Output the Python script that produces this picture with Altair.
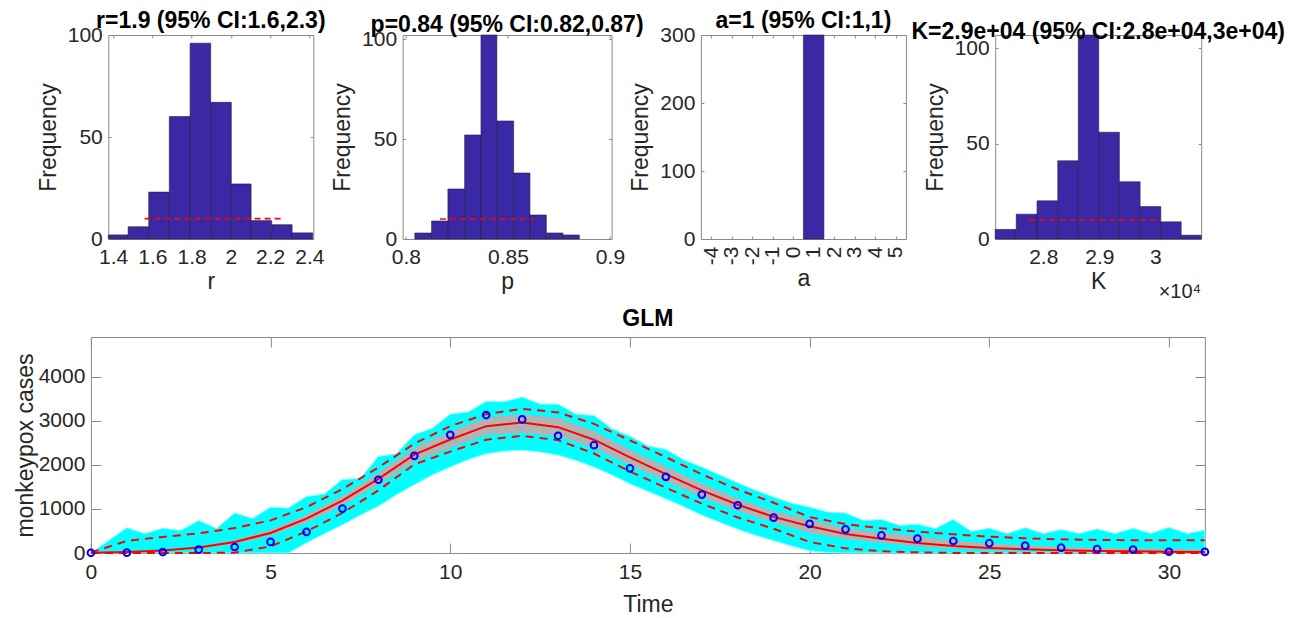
import altair as alt
import pandas as pd

FONT = "Liberation Sans"
TXT = "#262626"
BOX = "#8a8a8a"
BAR = "#3b28a5"
BAR_EDGE = "#202040"
RED = "#ff0000"

# ---------------- histogram data ----------------
r_edges = [1.375, 1.476, 1.581, 1.686, 1.792, 1.897, 2.002, 2.103, 2.208, 2.312, 2.417]
r_counts = [2, 6, 23, 60, 96, 67, 27, 9, 7, 3]
r_ci = [1.56, 2.26]

p_edges = [0.8044, 0.8126, 0.8206, 0.8288, 0.8368, 0.8446, 0.8528, 0.8608, 0.8688, 0.8770, 0.8850]
p_counts = [3, 9, 25, 52, 102, 59, 33, 12, 3, 2]
p_ci = [0.8167, 0.8627]

a_edges = [0.5, 1.5]
a_counts = [300]

# K in units of 1e4
k_edges = [2.7143, 2.7518, 2.7889, 2.8258, 2.8625, 2.8989, 2.9357, 2.9727, 3.0096, 3.0459, 3.0816]
k_counts = [5, 13, 20, 41, 107, 56, 30, 17, 9, 2]
k_ci = [2.775, 3.010]

ci_height = 10

titles = ["r=1.9 (95% CI:1.6,2.3)", "p=0.84 (95% CI:0.82,0.87)",
          "a=1 (95% CI:1,1)", "K=2.9e+04 (95% CI:2.8e+04,3e+04)"]

# ---------------- fit data ----------------
time = list(range(32))
observed = [5, 7, 22, 75, 136, 252, 477, 1007, 1662, 2204, 2680, 3130, 3030, 2659, 2445, 1920,
            1727, 1325, 1083, 802, 662, 537, 398, 325, 272, 222, 166, 120, 90, 75, 28, 25]
fit_mean = [5, 22, 56, 125, 250, 455, 780, 1190, 1680, 2230, 2575, 2878, 2958, 2855, 2570, 2170,
            1790, 1420, 1095, 820, 605, 430, 325, 226, 157, 113, 83, 60, 45, 37, 30, 22]
pi_hi = [10, 275, 365, 445, 565, 740, 1040, 1450, 1940, 2480, 2880, 3150, 3270, 3190, 2930, 2555,
         2175, 1785, 1440, 1140, 815, 655, 560, 485, 423, 370, 335, 310, 295, 290, 288, 288]
pi_lo = [0, 0, 0, 0, 8, 150, 490, 910, 1420, 2010, 2300, 2570, 2658, 2560, 2257, 1850,
         1480, 1120, 805, 550, 250, 105, 40, 15, 0, 0, 0, 0, 0, 0, 0, 0]
ci_lo = [0, 14, 38, 95, 205, 390, 690, 1075, 1540, 2070, 2380, 2680, 2730, 2650, 2380, 1990,
         1620, 1260, 950, 690, 452, 320, 226, 150, 98, 70, 52, 38, 28, 22, 18, 15]
ci_hi = [12, 30, 75, 155, 295, 520, 870, 1300, 1820, 2390, 2760, 3070, 3150, 3060, 2770, 2350,
         1960, 1580, 1240, 950, 764, 560, 476, 380, 287, 220, 173, 140, 115, 100, 90, 80]

# envelope of the simulated realisations (read at every half time unit)
sim_t = [i / 2 for i in range(63)]
sim_hi = [0, 285, 570, 440, 560, 510, 735, 555, 910, 780, 1040, 1020, 1280, 1340, 1670, 1690,
          2190, 2250, 2680, 2830, 3150, 3200, 3440, 3430, 3540, 3380, 3375, 3150, 3120, 2820,
          2650, 2430, 2350, 2110, 1950, 1770, 1590, 1420, 1270, 1130, 1040, 930, 905, 740,
          760, 625, 655, 555, 760, 490, 560, 440, 570, 440, 530, 440, 545, 440, 560, 440,
          580, 440, 520]
sim_lo = [0, 0, 0, 0, 0, 0, 0, 0, 0, 0, 0, 0,
          230, 440, 640, 860, 1060, 1320, 1550, 1770, 1950, 2120, 2250, 2310, 2330, 2290,
          2220, 2100, 1950, 1770, 1570, 1400, 1230, 1050, 860, 700, 540, 400, 280, 160, 50, 10,
          0, 0, 0, 0, 0, 0, 0, 0, 0, 0, 0, 0, 0, 0, 0, 0, 0, 0, 0, 0, 0]

LBL = "'' + datum.value"


def sc(dom):
    return alt.Scale(domain=dom, nice=False, zero=False)


def tick_layers(xdom, ydom, xvals, yvals, W, H, tl):
    fdf = pd.DataFrame({"fx": [xdom[0]], "fy": [ydom[0]]})
    common = dict(labels=False, domain=False, grid=False, title=None, ticks=True,
                  tickColor=BOX, tickWidth=1, tickSize=tl)
    a = alt.Chart(fdf).mark_point(opacity=0).encode(
        x=alt.X("fx:Q", scale=sc(xdom),
                axis=alt.Axis(orient="top", offset=-H, values=xvals, **common)),
        y=alt.Y("fy:Q", scale=sc(ydom),
                axis=alt.Axis(orient="right", offset=-W, values=yvals, **common)))
    b = alt.Chart(fdf).mark_point(opacity=0).encode(
        x=alt.X("fx:Q", scale=sc(xdom),
                axis=alt.Axis(orient="bottom", offset=-H, values=xvals, **common)),
        y=alt.Y("fy:Q", scale=sc(ydom),
                axis=alt.Axis(orient="left", offset=-W, values=yvals, **common)))
    return [a, b]


def main_x(title, vals, angle=0, tpad=3):
    return alt.Axis(orient="bottom", values=vals, title=title, ticks=False, tickSize=0,
                    domain=False, grid=False, labelExpr=LBL, labelPadding=7,
                    labelAngle=angle, titlePadding=tpad, labelOverlap=False,
                    labelFlush=False)


def main_y(title, vals, tpad=7):
    return alt.Axis(orient="left", values=vals, title=title, ticks=False, tickSize=0,
                    domain=False, grid=False, labelExpr=LBL, labelPadding=6,
                    titlePadding=tpad, labelOverlap=False, labelFlush=False)


def hist_panel(edges, counts, ci, xdom, ydom, xvals, yvals, xtitle, title, W, H,
               angle=0, extra=None):
    df = pd.DataFrame({"x0": edges[:-1], "x1": edges[1:], "n": counts,
                       "base": [0] * len(counts)})
    bars = alt.Chart(df).mark_rect(color=BAR, stroke=BAR_EDGE, strokeWidth=0.6).encode(
        x=alt.X("x0:Q", scale=sc(xdom), axis=main_x(xtitle, xvals, angle)),
        x2="x1:Q",
        y=alt.Y("n:Q", scale=sc(ydom), axis=main_y("Frequency", yvals)),
        y2="base:Q",
    )
    layers = [bars]
    if ci is not None:
        cdf = pd.DataFrame({"lo": [ci[0]], "hi": [ci[1]], "h": [ci_height]})
        layers.append(alt.Chart(cdf).mark_rule(color=RED, strokeWidth=1.6, strokeDash=[6, 4]).encode(
            x=alt.X("lo:Q", scale=sc(xdom), axis=None), x2="hi:Q",
            y=alt.Y("h:Q", scale=sc(ydom), axis=None)))
    layers += tick_layers(xdom, ydom, xvals, yvals, W, H, 3)
    if extra is not None:
        layers += extra
    return alt.layer(*layers).properties(
        width=W, height=H,
        title=alt.TitleParams(title, frame="group", anchor="middle", offset=-9),
    ).resolve_axis(x="independent", y="independent")


def blank(h):
    return alt.Chart(pd.DataFrame({"bx": [0], "by": [0]})).mark_point(opacity=0).encode(
        x=alt.X("bx:Q", axis=None), y=alt.Y("by:Q", axis=None)
    ).properties(width=1, height=h, view=alt.ViewBackground(stroke="transparent"))


HT = 204
r_dom, p_dom, a_dom, k_dom = [1.375, 2.42], [0.7984, 0.9008], [-4.5, 5.5], [2.7143, 3.0816]

# invisible guide that reserves the left margin of the first panel
ext = alt.Chart(pd.DataFrame({"fx": [r_dom[0]], "fy": [0]})).mark_point(opacity=0).encode(
    x=alt.X("fx:Q", scale=sc(r_dom), axis=None),
    y=alt.Y("fy:Q", scale=sc([0, 100]),
            axis=alt.Axis(orient="left", offset=93.2, labels=False, ticks=False, domain=True,
                          domainOpacity=0, title=None, grid=False)))

p1 = hist_panel(r_edges, r_counts, r_ci, r_dom, [0, 100], [1.4, 1.6, 1.8, 2, 2.2, 2.4],
                [0, 50, 100], "r", titles[0], 205, HT, extra=[ext])
p2 = hist_panel(p_edges, p_counts, p_ci, p_dom, [0, 102], [0.8, 0.85, 0.9],
                [0, 50, 100], "p", titles[1], 209, HT)
p3 = hist_panel(a_edges, a_counts, None, a_dom, [0, 300], list(range(-4, 6)),
                [0, 100, 200, 300], "a", titles[2], 205, HT, angle=270)
exp_txt = alt.Chart(pd.DataFrame({"s": ["×10⁴"]})).mark_text(
    align="right", baseline="middle", font=FONT, fontSize=20, color=TXT).encode(
    x=alt.value(206), y=alt.value(HT + 53), text="s:N")
p4 = hist_panel(k_edges, k_counts, k_ci, k_dom, [0, 107], [2.8, 2.9, 3],
                [0, 50, 100], "K", titles[3], 206, HT, extra=[exp_txt])

top = alt.hconcat(blank(HT), p1, p2, p3, p4, spacing=89.3, bounds="flush")

# ---------------- bottom fit panel ----------------
WB, HB = 1114, 216
t_dom, y_dom = [0, 31], [0, 4900]
tx = [0, 5, 10, 15, 20, 25, 30]
ty = [0, 1000, 2000, 3000, 4000]

sim_df = pd.DataFrame({"t": sim_t, "lo": sim_lo, "hi": sim_hi})
fit_df = pd.DataFrame({"t": time, "obs": observed, "mean": fit_mean, "pihi": pi_hi,
                       "pilo": pi_lo, "cilo": ci_lo, "cihi": ci_hi})

sim = alt.Chart(sim_df).mark_area(color="#00ffff", opacity=1, stroke="#80ffff",
                                  strokeWidth=1).encode(
    x=alt.X("t:Q", scale=sc(t_dom), axis=alt.Axis(orient="bottom", values=tx, title="Time",
            ticks=False, tickSize=0, domain=False, grid=False, labelExpr=LBL, labelPadding=8,
            titlePadding=11, labelFlush=False)),
    y=alt.Y("lo:Q", scale=sc(y_dom), axis=alt.Axis(orient="left", values=ty,
            title="monkeypox cases", ticks=False, tickSize=0, domain=False, grid=False,
            labelExpr=LBL, labelPadding=6, titlePadding=1, labelFlush=False)),
    y2="hi:Q")
band = alt.Chart(fit_df).mark_area(color="#b3b3b3", opacity=1).encode(
    x=alt.X("t:Q", scale=sc(t_dom), axis=None),
    y=alt.Y("cilo:Q", scale=sc(y_dom), axis=None), y2="cihi:Q")
mean_line = alt.Chart(fit_df).mark_line(color=RED, strokeWidth=2).encode(
    x=alt.X("t:Q", scale=sc(t_dom), axis=None),
    y=alt.Y("mean:Q", scale=sc(y_dom), axis=None))
hi_line = alt.Chart(fit_df).mark_line(color=RED, strokeWidth=2, strokeDash=[8, 6]).encode(
    x=alt.X("t:Q", scale=sc(t_dom), axis=None),
    y=alt.Y("pihi:Q", scale=sc(y_dom), axis=None))
lo_line = alt.Chart(fit_df).mark_line(color=RED, strokeWidth=2, strokeDash=[8, 6]).encode(
    x=alt.X("t:Q", scale=sc(t_dom), axis=None),
    y=alt.Y("pilo:Q", scale=sc(y_dom), axis=None))
pts = alt.Chart(fit_df).mark_point(shape="circle", filled=False, color="#0000ff",
                                   size=45, strokeWidth=2, opacity=1).encode(
    x=alt.X("t:Q", scale=sc(t_dom), axis=None),
    y=alt.Y("obs:Q", scale=sc(y_dom), axis=None))

bottom_plot = alt.layer(sim, band, mean_line, hi_line, lo_line, pts,
                        *tick_layers(t_dom, y_dom, tx, ty, WB, HB, 10)).properties(
    width=WB, height=HB,
    title=alt.TitleParams("GLM", frame="group", anchor="middle", offset=6),
).resolve_axis(x="independent", y="independent")

bottom = alt.hconcat(blank(HB), bottom_plot, spacing=71.9, bounds="flush")

chart = alt.vconcat(top, bottom, spacing=4).properties(
    padding={"left": 5, "top": 1, "right": 5, "bottom": 5}
).configure_view(
    stroke=BOX, strokeWidth=1
).configure_axis(
    labelFont=FONT, titleFont=FONT, labelColor=TXT, titleColor=TXT,
    labelFontSize=21, titleFontSize=23, titleFontWeight="normal", grid=False
).configure_title(
    font=FONT, fontSize=23, fontWeight="bold", color="#000000"
)

chart.save("out.html", embed_options={"renderer": "svg", "actions": False})
